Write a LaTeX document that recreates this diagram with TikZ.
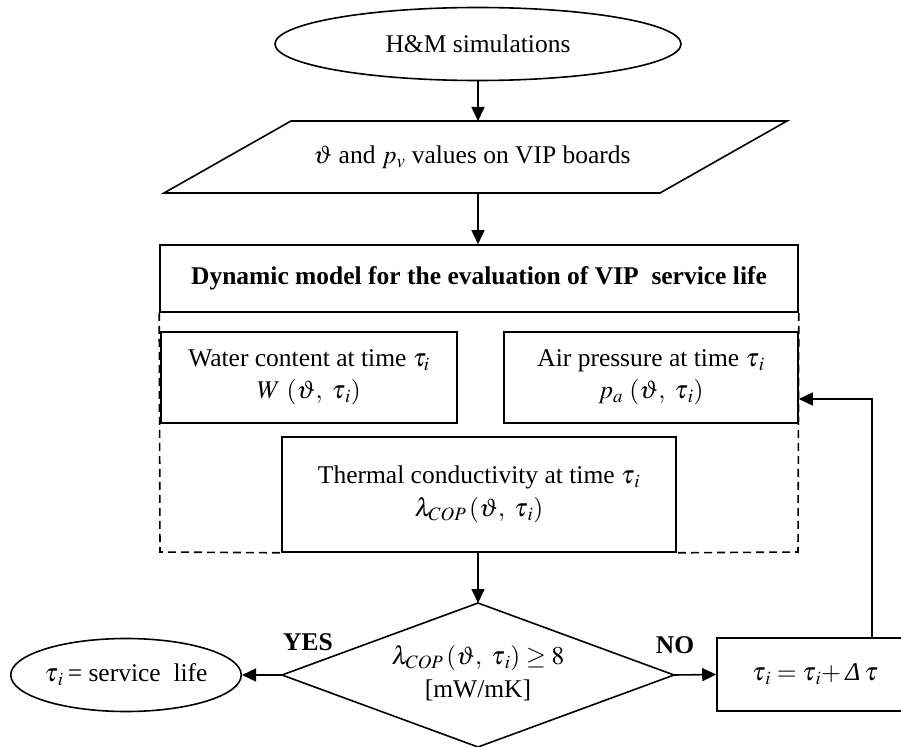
\documentclass[tikz,border=0pt]{standalone}
\usepackage{mathptmx}
\usepackage{fontspec}
\setmainfont{Liberation Serif}
\usetikzlibrary{arrows.meta,shapes.geometric}
\tikzset{
  line/.style={line width=1.6pt},
  arr/.style={line, -{Triangle[length=14pt,width=13pt]}},
  box/.style={draw, line width=1.6pt, rectangle, inner sep=0pt, align=center},
  oval/.style={draw, line width=1.6pt, ellipse, inner sep=0pt, align=center},
  lbl/.style={inner sep=0pt, align=center},
  dashline/.style={line width=1.6pt, dash pattern=on 8pt off 5pt},
}
\begin{document}
\begin{tikzpicture}[x=1pt,y=-1pt,font=\fontsize{25.5}{31}\selectfont]
\useasboundingbox (0,0) rectangle (901,746);
% top ellipse
\node[oval, minimum width=406pt, minimum height=73pt] (hm) at (478,44) {H\&M simulations};
% parallelogram
\coordinate (pTL) at (291,121);
\coordinate (pTR) at (787,121);
\coordinate (pBR) at (660,193);
\coordinate (pBL) at (164,193);
\draw[line, line join=miter] (pTL) -- (pTR) -- (pBR) -- (pBL) -- cycle;
\node[lbl] (para) at (472,157) {$\vartheta$ and $p_v$ values on VIP boards};
\coordinate (ptop) at (478,121);
\coordinate (pbot) at (478,193);
% title box
\node[box, minimum width=638pt, minimum height=67pt] (title) at (479,278.5) {\textbf{Dynamic model for the evaluation of VIP\ \ service life}};
% inner boxes
\node[box, minimum width=296pt, minimum height=91pt] (water) at (309,377.5) {Water content at time $\tau_{i}$\\[1pt] $W\ (\vartheta,\ \tau_{\,i})$};
\node[box, minimum width=294pt, minimum height=91pt] (air) at (651,377.5) {Air pressure at time $\tau_{\,i}$\\[1pt] $p_a\ (\vartheta,\ \tau_{\,i})$};
\node[box, minimum width=394pt, minimum height=115pt] (therm) at (479,494.5) {Thermal conductivity at time $\tau_{\,i}$\\[2pt] $\lambda_{COP}\,(\vartheta,\ \tau_{\,i})$};
% dashed frame
\coordinate (dBL) at (160,552);
\coordinate (dBR) at (798,552);
\draw[dashline] (title.south west) -- (dBL) -- (therm.south west);
\draw[dashline] (title.south east) -- (dBR) -- (therm.south east);
% diamond
\coordinate (dT) at (478,603);
\coordinate (dR) at (674,675);
\coordinate (dB) at (478,747);
\coordinate (dL) at (282,675);
\draw[line, line join=miter] (dT) -- (dR) -- (dB) -- (dL) -- cycle;
\node[lbl] (cond) at (478,673) {$\lambda_{COP}\,(\vartheta,\ \tau_{\,i})\geq 8$\\[2pt] {[mW/mK]}};
\node[lbl] (yes) at (308,642) {\textbf{YES}};
\node[lbl] (no) at (675,645) {\textbf{NO}};
% result nodes
\node[oval, minimum width=228pt, minimum height=73pt] (life) at (126,675) {$\tau_{\,i}$\,= service\ \ life};
\node[box, minimum width=196pt, minimum height=73pt] (tau) at (815,674.5) {$\tau_{\,i} = \tau_{\,i}{+}$\,{\itshape Δ}\,$\tau$};
% connectors
\draw[arr] (hm.south -| ptop) -- (ptop);
\draw[arr] (pbot) -- (title.north -| pbot);
\draw[arr] (therm.south -| dT) -- (dT);
\draw[arr] (dL) -- (life.east);
\draw[arr] (dR) -- (tau.west);
\coordinate (fb) at (872,399);
\draw[arr] (tau.north -| fb) -- (fb) -- (air.east |- fb);
\end{tikzpicture}
\end{document}
